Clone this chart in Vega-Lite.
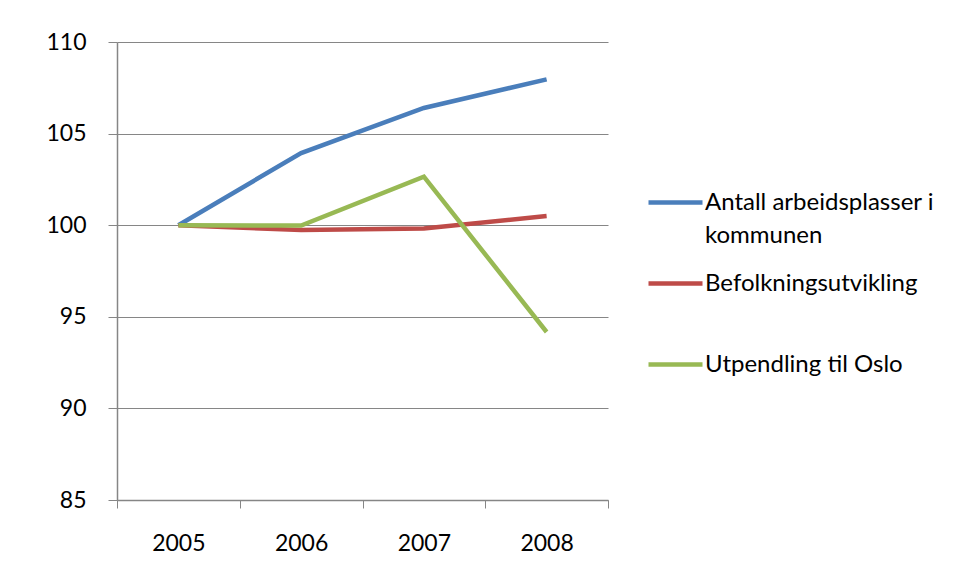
{
  "$schema": "https://vega.github.io/schema/vega-lite/v6.json",
  "autosize": "none",
  "padding": {"left": 117, "top": 42, "right": 349, "bottom": 80},
  "width": 491,
  "height": 458,
  "background": "white",
  "data": {
    "values": [
      {"year": "2005", "series": "Antall arbeidsplasser i kommunen", "value": 100},
      {"year": "2006", "series": "Antall arbeidsplasser i kommunen", "value": 103.94},
      {"year": "2007", "series": "Antall arbeidsplasser i kommunen", "value": 106.4},
      {"year": "2008", "series": "Antall arbeidsplasser i kommunen", "value": 107.96},
      {"year": "2005", "series": "Befolkningsutvikling", "value": 100},
      {"year": "2006", "series": "Befolkningsutvikling", "value": 99.74},
      {"year": "2007", "series": "Befolkningsutvikling", "value": 99.82},
      {"year": "2008", "series": "Befolkningsutvikling", "value": 100.5},
      {"year": "2005", "series": "Utpendling til Oslo", "value": 100},
      {"year": "2006", "series": "Utpendling til Oslo", "value": 99.98},
      {"year": "2007", "series": "Utpendling til Oslo", "value": 102.65},
      {"year": "2008", "series": "Utpendling til Oslo", "value": 94.17}
    ]
  },
  "mark": {"type": "line", "strokeWidth": 4.5, "strokeJoin": "miter"},
  "encoding": {
    "x": {
      "field": "year",
      "type": "ordinal",
      "scale": {"type": "band", "paddingInner": 0, "paddingOuter": 0},
      "axis": {
        "title": null,
        "labelAngle": 0,
        "tickBand": "extent",
        "tickSize": 8,
        "tickColor": "#868686",
        "domainColor": "#868686",
        "domainWidth": 1.5,
        "labelPadding": 24,
        "labelFont": "Lato",
        "labelFontSize": 23,
        "labelColor": "#000000",
        "grid": false
      }
    },
    "y": {
      "field": "value",
      "type": "quantitative",
      "scale": {"domain": [85, 110], "nice": false, "zero": false},
      "axis": {
        "title": null,
        "values": [85, 90, 95, 100, 105, 110],
        "tickSize": 9,
        "tickColor": "#868686",
        "domainColor": "#868686",
        "domainWidth": 1.5,
        "gridColor": "#868686",
        "gridWidth": 1,
        "labelPadding": 22,
        "labelFont": "Lato",
        "labelFontSize": 23,
        "labelColor": "#000000"
      }
    },
    "color": {
      "field": "series",
      "type": "nominal",
      "scale": {
        "domain": ["Antall arbeidsplasser i kommunen", "Befolkningsutvikling", "Utpendling til Oslo"],
        "range": ["#4A7EBB", "#BE4B48", "#98B954"]
      },
      "legend": {
        "title": null,
        "orient": "none",
        "legendX": 529,
        "legendY": 131,
        "gridAlign": "all",
        "symbolType": "stroke",
        "symbolSize": 2916,
        "symbolStrokeWidth": 4.5,
        "labelFont": "Lato",
        "labelFontSize": 24,
        "labelColor": "#000000",
        "labelLimit": 400,
        "labelOffset": 0,
        "rowPadding": 6,
        "labelExpr": "datum.label == 'Antall arbeidsplasser i kommunen' ? ['Antall arbeidsplasser  i', 'kommunen'] : datum.label"
      }
    }
  },
  "config": {
    "view": {"stroke": null},
    "style": {"guide-label": {"lineHeight": 33}}
  }
}
